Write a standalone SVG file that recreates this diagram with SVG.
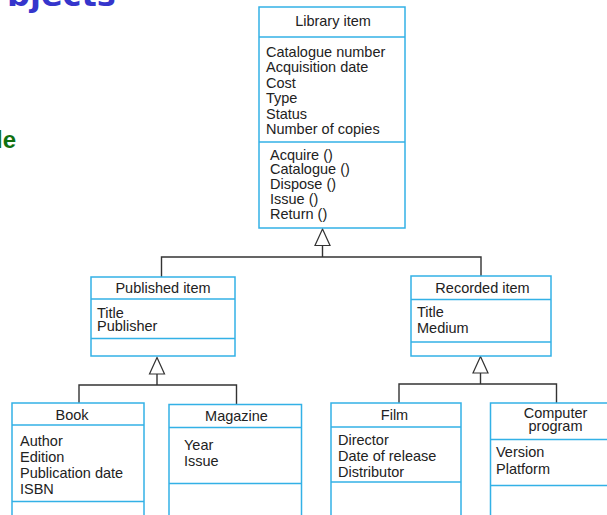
<svg xmlns="http://www.w3.org/2000/svg" width="607" height="515" viewBox="0 0 607 515">
  <style>
    .box { fill: #ffffff; stroke: #33b1e6; stroke-width: 1.5; }
    .div { stroke: #33b1e6; stroke-width: 1.5; fill: none; }
    .wire { stroke: #333333; stroke-width: 1.4; fill: none; }
    .gen { fill: #ffffff; stroke: #333333; stroke-width: 1.2; }
    .t { font-family: "Liberation Sans", Arial, sans-serif; font-size: 14.5px; fill: #222222; }
    .c { text-anchor: middle; }
  </style>

  <rect width="607" height="515" fill="#ffffff"/>

  <!-- slide heading fragments at the edges -->
  <text x="7" y="6" font-family="'DejaVu Sans', Verdana, sans-serif" font-weight="bold" font-size="32" fill="#3535cc">bjects</text>
  <text x="-4" y="148" font-family="'Liberation Sans', Arial, sans-serif" font-weight="bold" font-size="24" fill="#107010">le</text>

  <!-- generalisation connectors -->
  <g id="connectors">
    <!-- Library item -> Published / Recorded -->
    <polyline class="wire" points="322.5,245 322.5,257"/>
    <polyline class="wire" points="161.5,277 161.5,257 481,257 481,276"/>
    <polygon class="gen" points="322.5,229 315,245.5 330,245.5"/>
    <!-- Published item -> Book / Magazine -->
    <polyline class="wire" points="157,374 157,385"/>
    <polyline class="wire" points="79,403 79,385 236.5,385 236.5,404"/>
    <polygon class="gen" points="157,357.5 149.5,374 164.5,374"/>
    <!-- Recorded item -> Film / Computer program -->
    <polyline class="wire" points="480.5,373 480.5,384"/>
    <polyline class="wire" points="399,403 399,384 556.5,384 556.5,403"/>
    <polygon class="gen" points="480.5,356.5 473,373 488,373"/>
  </g>

  <g id="library-item">
    <rect class="box" x="259" y="7" width="146" height="221"/>
    <line class="div" x1="259" y1="37" x2="405" y2="37"/>
    <line class="div" x1="259" y1="142" x2="405" y2="142"/>
    <text class="t c" x="333" y="26">Library item</text>
    <text class="t" x="266" y="56.5">Catalogue number</text>
    <text class="t" x="266" y="72">Acquisition date</text>
    <text class="t" x="266" y="87.5">Cost</text>
    <text class="t" x="266" y="103">Type</text>
    <text class="t" x="266" y="118.5">Status</text>
    <text class="t" x="266" y="134">Number of copies</text>
    <text class="t" x="270" y="159.5">Acquire ()</text>
    <text class="t" x="270" y="174.4">Catalogue ()</text>
    <text class="t" x="270" y="189.3">Dispose ()</text>
    <text class="t" x="270" y="204.2">Issue ()</text>
    <text class="t" x="270" y="219">Return ()</text>
  </g>

  <g id="published-item">
    <rect class="box" x="91" y="277" width="144" height="79"/>
    <line class="div" x1="91" y1="299" x2="235" y2="299"/>
    <line class="div" x1="91" y1="338.5" x2="235" y2="338.5"/>
    <text class="t c" x="163" y="293">Published item</text>
    <text class="t" x="97" y="317.5">Title</text>
    <text class="t" x="97" y="331">Publisher</text>
  </g>

  <g id="recorded-item">
    <rect class="box" x="411" y="276" width="140" height="80"/>
    <line class="div" x1="411" y1="299.5" x2="551" y2="299.5"/>
    <line class="div" x1="411" y1="342" x2="551" y2="342"/>
    <text class="t c" x="482.5" y="293">Recorded item</text>
    <text class="t" x="417" y="316.5">Title</text>
    <text class="t" x="417" y="332.5">Medium</text>
  </g>

  <g id="book">
    <rect class="box" x="12" y="403" width="132" height="120"/>
    <line class="div" x1="12" y1="425" x2="144" y2="425"/>
    <line class="div" x1="12" y1="501.5" x2="144" y2="501.5"/>
    <text class="t c" x="72" y="419.5">Book</text>
    <text class="t" x="20" y="445.5">Author</text>
    <text class="t" x="20" y="461.8">Edition</text>
    <text class="t" x="20" y="478">Publication date</text>
    <text class="t" x="20" y="494.3">ISBN</text>
  </g>

  <g id="magazine">
    <rect class="box" x="169" y="404.5" width="132.5" height="120"/>
    <line class="div" x1="169" y1="427.5" x2="301.5" y2="427.5"/>
    <line class="div" x1="169" y1="483.5" x2="301.5" y2="483.5"/>
    <text class="t c" x="236.5" y="420.5">Magazine</text>
    <text class="t" x="184" y="449.5">Year</text>
    <text class="t" x="184" y="466">Issue</text>
  </g>

  <g id="film">
    <rect class="box" x="331" y="403" width="130" height="120"/>
    <line class="div" x1="331" y1="427" x2="461" y2="427"/>
    <line class="div" x1="331" y1="482" x2="461" y2="482"/>
    <text class="t c" x="394.5" y="420">Film</text>
    <text class="t" x="338" y="444.5">Director</text>
    <text class="t" x="338" y="461">Date of release</text>
    <text class="t" x="338" y="477.3">Distributor</text>
  </g>

  <g id="computer-program">
    <rect class="box" x="490.5" y="403" width="140" height="120"/>
    <line class="div" x1="490.5" y1="439.5" x2="630" y2="439.5"/>
    <line class="div" x1="490.5" y1="485.5" x2="630" y2="485.5"/>
    <text class="t c" x="555.5" y="417.5">Computer</text>
    <text class="t c" x="555.5" y="431">program</text>
    <text class="t" x="496" y="457">Version</text>
    <text class="t" x="496" y="474">Platform</text>
  </g>
</svg>
